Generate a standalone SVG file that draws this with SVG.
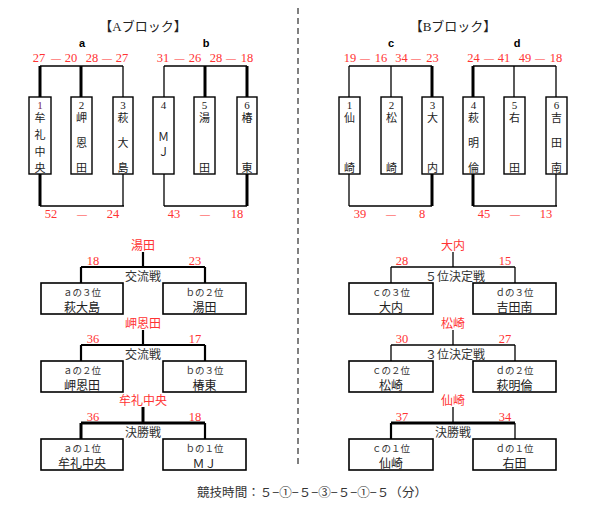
<svg xmlns="http://www.w3.org/2000/svg" width="597" height="511" viewBox="0 0 597 511">
<style>
.bg{fill:#fff}
.box{fill:#fff;stroke:#000;stroke-width:1.4}
.mbox{fill:#fff;stroke:#000;stroke-width:1.6}
.ln{stroke:#000;stroke-width:1.3;fill:none}
.th{stroke:#000;stroke-width:3;fill:none}
.md{stroke:#000;stroke-width:2.2;fill:none}
.div{stroke:#000;stroke-width:1;stroke-dasharray:6 4;fill:none}
.jp{font-family:"Noto Sans CJK JP",sans-serif;text-anchor:middle}
.num{font-family:"Liberation Serif",serif;text-anchor:middle}
.dash{font-size:10px}
.red{fill:#ff3333}
.grp{font-family:"Liberation Sans",sans-serif;font-weight:bold;font-size:11px;text-anchor:middle}
.title{font-family:"Liberation Serif","Noto Sans CJK JP",serif;font-size:13px;text-anchor:middle;fill:#222}
.vt{font-family:"Noto Sans CJK JP",sans-serif;font-size:11px;text-anchor:middle;fill:#222}
.vn{font-family:"Liberation Serif",serif;font-size:11px;text-anchor:middle;fill:#222}
.sub{font-family:"Noto Sans CJK JP",sans-serif;font-size:9.5px;text-anchor:middle;fill:#333}
.nm{font-family:"Noto Sans CJK JP",sans-serif;font-size:12px;text-anchor:middle;fill:#222}
.gm{font-family:"Noto Sans CJK JP",sans-serif;font-size:12px;text-anchor:middle;fill:#333}
</style>
<rect class="bg" x="0" y="0" width="597" height="511"/>

<g id="titles">
<text class="title" x="143" y="31">【Aブロック】</text>
<text class="title" x="453" y="31">【Bブロック】</text>
<text class="grp" x="82" y="47">a</text>
<text class="grp" x="206" y="47">b</text>
<text class="grp" x="391" y="47">c</text>
<text class="grp" x="517" y="47">d</text>
</g>

<g id="scores-top" class="num red" font-size="12.5">
<text y="62"><tspan x="39">27</tspan><tspan class="dash" x="56">—</tspan><tspan x="71">20</tspan><tspan x="92">28</tspan><tspan class="dash" x="107">—</tspan><tspan x="122">27</tspan></text>
<text y="62"><tspan x="163">31</tspan><tspan class="dash" x="179.5">—</tspan><tspan x="195">26</tspan><tspan x="216">28</tspan><tspan class="dash" x="231">—</tspan><tspan x="247">18</tspan></text>
<text y="62"><tspan x="350">19</tspan><tspan class="dash" x="365">—</tspan><tspan x="381">16</tspan><tspan x="401.5">34</tspan><tspan class="dash" x="416">—</tspan><tspan x="432.5">23</tspan></text>
<text y="62"><tspan x="473.5">24</tspan><tspan class="dash" x="489">—</tspan><tspan x="504">41</tspan><tspan x="525">49</tspan><tspan class="dash" x="540">—</tspan><tspan x="556">18</tspan></text>
</g>

<g id="scores-bottom" class="num red" font-size="12.5">
<text y="218"><tspan x="51">52</tspan><tspan class="dash" x="82">—</tspan><tspan x="113">24</tspan></text>
<text y="218"><tspan x="174">43</tspan><tspan class="dash" x="205">—</tspan><tspan x="237">18</tspan></text>
<text y="218"><tspan x="360">39</tspan><tspan class="dash" x="391">—</tspan><tspan x="422">8</tspan></text>
<text y="218"><tspan x="484">45</tspan><tspan class="dash" x="515">—</tspan><tspan x="546">13</tspan></text>
</g>

<g id="connectors">
<line class="div" x1="298" y1="8" x2="298" y2="468"/>
<line class="ln" x1="40" y1="66" x2="123" y2="66"/>
<line class="th" x1="40" y1="66" x2="40" y2="97"/>
<line class="th" x1="81" y1="66" x2="81" y2="97"/>
<line class="ln" x1="123" y1="66" x2="123" y2="97"/>
<line class="th" x1="40" y1="174" x2="40" y2="206"/>
<line class="ln" x1="123" y1="174" x2="123" y2="206"/>
<line class="ln" x1="40" y1="206" x2="124" y2="206"/>
<line class="ln" x1="164" y1="66" x2="247" y2="66"/>
<line class="ln" x1="164" y1="66" x2="164" y2="97"/>
<line class="th" x1="205" y1="66" x2="205" y2="97"/>
<line class="th" x1="247" y1="66" x2="247" y2="97"/>
<line class="ln" x1="164" y1="174" x2="164" y2="206"/>
<line class="th" x1="247" y1="174" x2="247" y2="206"/>
<line class="ln" x1="164" y1="206" x2="247" y2="206"/>
<line class="ln" x1="349" y1="66" x2="432" y2="66"/>
<line class="ln" x1="349" y1="66" x2="349" y2="97"/>
<line class="ln" x1="391" y1="66" x2="391" y2="97"/>
<line class="th" x1="432" y1="66" x2="432" y2="97"/>
<line class="ln" x1="349" y1="174" x2="349" y2="206"/>
<line class="th" x1="432" y1="174" x2="432" y2="206"/>
<line class="ln" x1="349" y1="206" x2="432" y2="206"/>
<line class="ln" x1="473" y1="66" x2="556" y2="66"/>
<line class="th" x1="473" y1="66" x2="473" y2="97"/>
<line class="ln" x1="514" y1="66" x2="514" y2="97"/>
<line class="ln" x1="556" y1="66" x2="556" y2="97"/>
<line class="th" x1="473" y1="174" x2="473" y2="206"/>
<line class="ln" x1="556" y1="174" x2="556" y2="206"/>
<line class="ln" x1="473" y1="206" x2="557" y2="206"/>

<line class="md" x1="143" y1="252" x2="143" y2="267"/>
<line class="md" x1="81" y1="267" x2="205" y2="267"/>
<line class="md" x1="81" y1="267" x2="81" y2="283"/>
<line class="md" x1="205" y1="267" x2="205" y2="283"/>

<line class="md" x1="143" y1="330" x2="143" y2="345"/>
<line class="md" x1="81" y1="345" x2="205" y2="345"/>
<line class="md" x1="81" y1="345" x2="81" y2="361"/>
<line class="md" x1="205" y1="345" x2="205" y2="361"/>

<line class="th" x1="143" y1="407" x2="143" y2="423"/>
<line class="th" x1="81" y1="423" x2="205" y2="423"/>
<line class="th" x1="81" y1="423" x2="81" y2="439"/>
<line class="md" x1="205" y1="423" x2="205" y2="439"/>

<line class="ln" x1="453" y1="252" x2="453" y2="267"/>
<line class="ln" x1="391" y1="267" x2="515" y2="267"/>
<line class="ln" x1="391" y1="267" x2="391" y2="283"/>
<line class="ln" x1="515" y1="267" x2="515" y2="283"/>

<line class="ln" x1="453" y1="330" x2="453" y2="345"/>
<line class="ln" x1="391" y1="345" x2="515" y2="345"/>
<line class="ln" x1="391" y1="345" x2="391" y2="361"/>
<line class="ln" x1="515" y1="345" x2="515" y2="361"/>

<line class="ln" x1="453" y1="407" x2="453" y2="423"/>
<line class="th" x1="391" y1="423" x2="515" y2="423"/>
<line class="md" x1="391" y1="423" x2="391" y2="439"/>
<line class="ln" x1="515" y1="423" x2="515" y2="439"/>
</g>

<g id="a1"><rect class="box" x="29" y="97" width="22" height="77"/>
<text class="vn" x="40" y="108.5" style="fill:#7a1f4f">1</text>
<text class="vt" x="40" y="122">牟</text><text class="vt" x="40" y="139">礼</text><text class="vt" x="40" y="156">中</text><text class="vt" x="40" y="171.5">央</text></g>
<g id="a2"><rect class="box" x="71" y="97" width="21" height="77"/>
<text class="vn" x="81.5" y="108.5">2</text>
<text class="vt" x="81.5" y="122">岬</text><text class="vt" x="81.5" y="147">恩</text><text class="vt" x="81.5" y="171.5">田</text></g>
<g id="a3"><rect class="box" x="113" y="97" width="20" height="77"/>
<text class="vn" x="123" y="108.5">3</text>
<text class="vt" x="123" y="122">萩</text><text class="vt" x="123" y="147">大</text><text class="vt" x="123" y="171.5">島</text></g>
<g id="a4"><rect class="box" x="153" y="97" width="21" height="77"/>
<text class="vn" x="163.5" y="108.5">4</text>
<text class="vt" x="163.5" y="141">Ｍ</text><text class="vt" x="163.5" y="156">Ｊ</text></g>
<g id="a5"><rect class="box" x="194" y="97" width="21" height="77"/>
<text class="vn" x="204.5" y="108.5">5</text>
<text class="vt" x="204.5" y="122">湯</text><text class="vt" x="204.5" y="171.5">田</text></g>
<g id="a6"><rect class="box" x="237" y="97" width="20" height="77"/>
<text class="vn" x="247" y="108.5">6</text>
<text class="vt" x="247" y="122">椿</text><text class="vt" x="247" y="171.5">東</text></g>

<g id="b1"><rect class="box" x="339" y="97" width="21" height="77"/>
<text class="vn" x="349.5" y="108.5">1</text>
<text class="vt" x="349.5" y="122">仙</text><text class="vt" x="349.5" y="171.5">崎</text></g>
<g id="b2"><rect class="box" x="381" y="97" width="21" height="77"/>
<text class="vn" x="391.5" y="108.5">2</text>
<text class="vt" x="391.5" y="122">松</text><text class="vt" x="391.5" y="171.5">崎</text></g>
<g id="b3"><rect class="box" x="422" y="97" width="21" height="77"/>
<text class="vn" x="432.5" y="108.5">3</text>
<text class="vt" x="432.5" y="122">大</text><text class="vt" x="432.5" y="171.5">内</text></g>
<g id="b4"><rect class="box" x="463" y="97" width="21" height="77"/>
<text class="vn" x="473.5" y="108.5">4</text>
<text class="vt" x="473.5" y="122">萩</text><text class="vt" x="473.5" y="147">明</text><text class="vt" x="473.5" y="171.5">倫</text></g>
<g id="b5"><rect class="box" x="504" y="97" width="21" height="77"/>
<text class="vn" x="514.5" y="108.5">5</text>
<text class="vt" x="514.5" y="122">右</text><text class="vt" x="514.5" y="171.5">田</text></g>
<g id="b6"><rect class="box" x="546" y="97" width="21" height="77"/>
<text class="vn" x="556.5" y="108.5">6</text>
<text class="vt" x="556.5" y="122">吉</text><text class="vt" x="556.5" y="147">田</text><text class="vt" x="556.5" y="171.5">南</text></g>

<g id="a-m1">
<text class="jp red" font-size="12" x="143" y="249.5">湯田</text>
<text class="num red" font-size="12.5" x="93" y="264.5">18</text>
<text class="num red" font-size="12.5" x="195" y="264.5">23</text>
<text class="gm" x="143" y="280.5">交流戦</text>
</g>
<g id="a-m1-l"><rect class="mbox" x="41" y="283" width="82" height="31"/><text class="sub" x="82" y="296">ａの３位</text><text class="nm" x="82" y="311.5">萩大島</text></g>
<g id="a-m1-r"><rect class="mbox" x="163" y="283" width="83" height="31"/><text class="sub" x="204.5" y="296">ｂの２位</text><text class="nm" x="204.5" y="311.5">湯田</text></g>

<g id="a-m2">
<text class="jp red" font-size="12" x="143" y="327.5">岬恩田</text>
<text class="num red" font-size="12.5" x="93" y="342.5">36</text>
<text class="num red" font-size="12.5" x="195" y="342.5">17</text>
<text class="gm" x="143" y="358.5">交流戦</text>
</g>
<g id="a-m2-l"><rect class="mbox" x="41" y="361" width="82" height="31"/><text class="sub" x="82" y="374">ａの２位</text><text class="nm" x="82" y="389.5">岬恩田</text></g>
<g id="a-m2-r"><rect class="mbox" x="163" y="361" width="83" height="31"/><text class="sub" x="204.5" y="374">ｂの３位</text><text class="nm" x="204.5" y="389.5">椿東</text></g>

<g id="a-m3">
<text class="jp red" font-size="12" x="143" y="405">牟礼中央</text>
<text class="num red" font-size="12.5" x="93" y="420.5">36</text>
<text class="num red" font-size="12.5" x="195" y="420.5">18</text>
<text class="gm" x="143" y="436.5">決勝戦</text>
</g>
<g id="a-m3-l"><rect class="mbox" x="41" y="439" width="82" height="31"/><text class="sub" x="82" y="452">ａの１位</text><text class="nm" x="82" y="467.5">牟礼中央</text></g>
<g id="a-m3-r"><rect class="mbox" x="163" y="439" width="83" height="31"/><text class="sub" x="204.5" y="452">ｂの１位</text><text class="nm" x="204.5" y="467.5">ＭＪ</text></g>

<g id="b-m1">
<text class="jp red" font-size="12" x="453" y="249.5">大内</text>
<text class="num red" font-size="12.5" x="402" y="264.5">28</text>
<text class="num red" font-size="12.5" x="505" y="264.5">15</text>
<text class="gm" x="455" y="280.5">５位決定戦</text>
</g>
<g id="b-m1-l"><rect class="mbox" x="349" y="283" width="84" height="31"/><text class="sub" x="391" y="296">ｃの３位</text><text class="nm" x="391" y="311.5">大内</text></g>
<g id="b-m1-r"><rect class="mbox" x="473" y="283" width="83" height="31"/><text class="sub" x="514.5" y="296">ｄの３位</text><text class="nm" x="514.5" y="311.5">吉田南</text></g>

<g id="b-m2">
<text class="jp red" font-size="12" x="453" y="327.5">松崎</text>
<text class="num red" font-size="12.5" x="402" y="342.5">30</text>
<text class="num red" font-size="12.5" x="505" y="342.5">27</text>
<text class="gm" x="455" y="358.5">３位決定戦</text>
</g>
<g id="b-m2-l"><rect class="mbox" x="349" y="361" width="84" height="31"/><text class="sub" x="391" y="374">ｃの２位</text><text class="nm" x="391" y="389.5">松崎</text></g>
<g id="b-m2-r"><rect class="mbox" x="473" y="361" width="83" height="31"/><text class="sub" x="514.5" y="374">ｄの２位</text><text class="nm" x="514.5" y="389.5">萩明倫</text></g>

<g id="b-m3">
<text class="jp red" font-size="12" x="453" y="405">仙崎</text>
<text class="num red" font-size="12.5" x="402" y="420.5">37</text>
<text class="num red" font-size="12.5" x="505" y="420.5">34</text>
<text class="gm" x="453" y="436.5">決勝戦</text>
</g>
<g id="b-m3-l"><rect class="mbox" x="349" y="439" width="84" height="31"/><text class="sub" x="391" y="452">ｃの１位</text><text class="nm" x="391" y="467.5">仙崎</text></g>
<g id="b-m3-r"><rect class="mbox" x="473" y="439" width="83" height="31"/><text class="sub" x="514.5" y="452">ｄの１位</text><text class="nm" x="514.5" y="467.5">右田</text></g>

<g id="footer">
<text class="gm" x="312" y="497" textLength="230" lengthAdjust="spacingAndGlyphs">競技時間：５−①−５−③−５−①−５（分）</text>
</g>
</svg>
